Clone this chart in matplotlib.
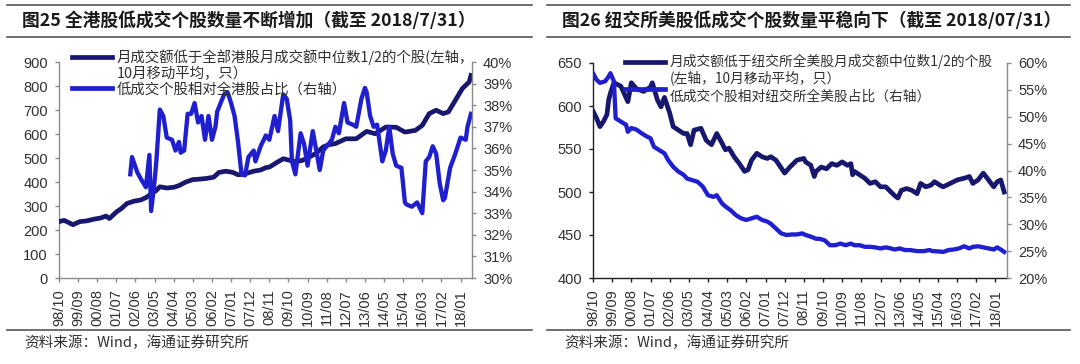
import matplotlib
matplotlib.use('Agg')
import matplotlib.pyplot as plt
from matplotlib.lines import Line2D
from matplotlib.ticker import FuncFormatter

plt.rcParams['font.family'] = ['Liberation Sans', 'Noto Sans CJK SC', 'DejaVu Sans']
CJK = ['Noto Sans CJK SC', 'DejaVu Sans']

# month index counted from 1998/10
tick_months = [0, 11, 22, 33, 44, 55, 66, 77, 88, 99, 110, 121, 132, 143, 154, 165, 176, 187, 198, 209, 220, 231]
tick_labels = ['98/10', '99/09', '00/08', '01/07', '02/06', '03/05', '04/04', '05/03', '06/02', '07/01', '07/12',
               '08/11', '09/10', '10/09', '11/08', '12/07', '13/06', '14/05', '15/04', '16/03', '17/02', '18/01']

# HK: number of low-turnover stocks (left axis)
hk_cnt_m = [0, 3, 5, 8, 12, 16, 20, 24, 27, 29, 33, 36, 39, 43, 47, 50, 54, 56, 58, 62, 66, 69, 73, 77, 81, 85, 89,
            92, 96, 100, 103, 106, 112, 116, 119, 121, 125, 129, 133, 136, 140, 144, 148, 152, 155, 159, 165, 171,
            177, 182, 188, 194, 199, 205, 209, 213, 217, 221, 224, 228, 232, 236, 237]
hk_cnt = [235, 240, 233, 222, 235, 238, 245, 250, 258, 248, 275, 290, 310, 320, 325, 335, 355, 365, 380, 375, 378,
          385, 400, 410, 412, 415, 420, 440, 445, 440, 430, 432, 445, 450, 460, 462, 480, 497, 490, 485, 490, 504,
          520, 546, 555, 560, 580, 580, 611, 601, 629, 628, 608, 615, 636, 685, 699, 685, 692, 740, 789, 817, 844]

# HK: share of low-turnover stocks, % (right axis)
hk_pct_m = [41, 42, 45, 47, 50, 52, 53, 55, 56, 58, 60, 62, 65, 67, 69, 70, 72, 74, 76, 78, 80, 82, 84, 86, 88, 90,
            91, 93, 95, 97, 99, 101, 103, 105, 107, 109, 112, 113, 116, 119, 121, 124, 126, 129, 131, 133, 134, 136,
            139, 141, 143, 146, 148, 150, 152, 155, 157, 159, 161, 164, 166, 169, 171, 174, 176, 177, 179, 181, 183,
            186, 188, 190, 192, 194, 197, 199, 200, 203, 206, 209, 211, 213, 215, 217, 219, 221, 222, 225, 228, 231,
            234, 235, 237]
hk_pct = [34.8, 35.6, 34.9, 34.6, 34.2, 35.7, 33.1, 34.5, 35.4, 37.8, 37.5, 36.5, 36.4, 35.9, 36.3, 35.8, 35.9,
          37.6, 37.6, 38.1, 37.2, 37.5, 36.4, 37.5, 36.4, 37.0, 37.7, 38.1, 38.5, 38.6, 38.1, 37.5, 36.3, 34.8,
          34.75, 35.6, 35.9, 35.4, 36.1, 36.6, 36.4, 37.5, 36.8, 38.5, 38.3, 37.3, 35.4, 34.8, 36.7, 36.2, 35.2,
          36.8, 35.9, 35.0, 35.9, 36.2, 36.4, 37.0, 36.7, 38.1, 37.2, 37.1, 37.0, 38.3, 38.8, 38.6, 37.5, 37.0,
          37.1, 35.4, 35.9, 37.0, 35.75, 35.2, 35.1, 33.5, 33.4, 33.3, 33.5, 33.0, 35.4, 35.6, 36.1, 35.75, 34.4,
          33.6, 33.7, 35.1, 35.75, 36.5, 36.4, 37.0, 37.6]

# NYSE: number of low-turnover stocks (left axis)
ny_cnt_m = [0, 2, 4, 6, 8, 9, 10, 12, 16, 20, 22, 25, 29, 33, 34, 37, 39, 41, 44, 46, 49, 52, 54, 56, 58, 62, 65,
            68, 71, 74, 76, 78, 81, 84, 87, 89, 91, 94, 97, 100, 102, 105, 107, 110, 113, 117, 121, 122, 125, 127,
            128, 131, 134, 137, 140, 143, 146, 148, 149, 150, 153, 156, 159, 162, 165, 168, 171, 173, 175, 177, 180,
            183, 186, 188, 191, 194, 196, 199, 201, 205, 209, 213, 216, 218, 221, 224, 227, 230, 232, 234, 236]
ny_cnt = [594, 586, 576, 582, 590, 607, 615, 627, 623, 605, 627, 620, 617, 622, 627, 607, 599, 610, 592, 576, 572,
          568, 568, 555, 572, 574, 560, 555, 568, 557, 549, 551, 541, 533, 524, 526, 537, 545, 541, 539, 541, 537,
          531, 522, 529, 537, 539, 535, 531, 518, 524, 529, 527, 533, 531, 535, 531, 533, 520, 524, 520, 516, 510,
          512, 506, 506, 500, 496, 493, 502, 504, 502, 498, 510, 506, 508, 512, 508, 506, 510, 514, 516, 518, 510,
          514, 522, 514, 506, 512, 514, 500]

# NYSE: share of low-turnover stocks, % (right axis)
ny_pct_m = [0, 2, 4, 7, 9, 10, 12, 13, 16, 19, 20, 22, 25, 28, 31, 33, 35, 38, 41, 43, 46, 49, 52, 54, 57, 60, 63,
            66, 69, 71, 74, 76, 79, 82, 85, 88, 91, 94, 97, 100, 102, 105, 108, 111, 114, 117, 120, 122, 125, 128,
            130, 133, 136, 139, 142, 145, 148, 150, 153, 156, 159, 162, 165, 168, 171, 173, 176, 179, 182, 186, 190,
            193, 195, 198, 201, 204, 207, 210, 213, 216, 218, 221, 224, 227, 230, 232, 234, 236]
ny_pct = [58.1, 56.9, 56.3, 56.6, 57.5, 58.1, 56.6, 49.7, 49.1, 48.5, 47.2, 47.9, 47.6, 46.9, 46.3, 46.0, 44.4,
          43.8, 43.2, 42.0, 40.7, 39.8, 39.2, 38.5, 38.2, 37.9, 37.0, 35.4, 35.1, 35.4, 33.9, 33.3, 32.6, 31.7,
          31.1, 30.8, 31.1, 31.4, 30.8, 30.5, 30.1, 29.2, 28.3, 28.0, 28.1, 28.1, 28.3, 28.0, 27.7, 27.3, 27.3,
          27.0, 26.1, 26.1, 26.4, 26.1, 26.4, 26.1, 26.1, 25.8, 25.8, 25.7, 25.5, 25.7, 25.5, 25.3, 25.5, 25.2,
          25.2, 25.0, 25.0, 25.2, 25.0, 24.95, 24.85, 25.2, 25.3, 25.5, 25.9, 25.5, 25.8, 25.9, 25.7, 25.5, 25.3,
          25.7, 25.3, 24.85]

NAVY = '#17176e'
BLUE = '#1f1fcf'
TXT = '#303030'

fig = plt.figure(figsize=(10.8, 3.64), dpi=100)
W, H = 1080.0, 364.0


def setup(ax, ax2, spine_col, ylim, yticks, y2lim, y2ticks):
    ax.set_xlim(0, 237.6)
    ax.set_ylim(*ylim)
    ax.set_yticks(yticks)
    ax2.set_ylim(*y2lim)
    ax2.set_yticks(y2ticks)
    ax2.yaxis.set_major_formatter(FuncFormatter(lambda v, p: '%d%%' % round(v)))
    ax.set_xticks(tick_months)
    ax.set_xticklabels(tick_labels, rotation=90)
    for a in (ax, ax2):
        a.spines['top'].set_visible(False)
        for s in ('left', 'right', 'bottom'):
            a.spines[s].set_color(spine_col)
            a.spines[s].set_linewidth(1.0)
        a.tick_params(axis='both', labelsize=10.5, labelcolor=TXT, color=spine_col, length=3, width=1.0, pad=5)
    ax.spines['right'].set_visible(False)
    ax2.spines['left'].set_visible(False)
    ax2.spines['bottom'].set_visible(False)


def legend(ax, hx, hy, tx, lines, fs):
    for y, c in zip(hy, (NAVY, BLUE)):
        ax.add_line(Line2D(hx, [y, y], color=c, lw=3.4, transform=ax.transAxes, clip_on=False))
    for y, s in lines:
        ax.text(tx, y, s, transform=ax.transAxes, fontsize=fs, color=TXT, va='center', ha='left', family=CJK)


# left panel: Hong Kong
ax1 = fig.add_axes([59 / W, 1 - 278 / H, 413 / W, 216 / H])
ax1b = ax1.twinx()
setup(ax1, ax1b, '#8a8a8a', (0, 900), range(0, 901, 100), (30, 40), range(30, 41))
ax1.plot(hk_cnt_m, hk_cnt, color=NAVY, lw=3.4, zorder=3)
ax1b.plot(hk_pct_m, hk_pct, color=BLUE, lw=3.1, zorder=2)
legend(ax1b, [0.031, 0.128], [1.023, 0.88], 0.140,
       [(1.023, '月成交额低于全部港股月成交额中位数1/2的个股(左轴，'),
        (0.944, '10月移动平均，只）'),
        (0.870, '低成交个股相对全港股占比（右轴）')], 10.4)

# right panel: NYSE
ax2 = fig.add_axes([593 / W, 1 - 278 / H, 414 / W, 215 / H])
ax2b = ax2.twinx()
setup(ax2, ax2b, '#202020', (400, 650), range(400, 651, 50), (20, 60), range(20, 61, 5))
ax2b.spines['right'].set_color('#8a8a8a')
ax2b.tick_params(axis='y', color='#8a8a8a')
ax2.plot(ny_cnt_m, ny_cnt, color=NAVY, lw=3.4, zorder=3)
ax2b.plot(ny_pct_m, ny_pct, color=BLUE, lw=3.1, zorder=2)
legend(ax2b, [0.077, 0.174], [1.005, 0.879], 0.186,
       [(1.005, '月成交额低于纽交所全美股月成交额中位数1/2的个股'),
        (0.930, '(左轴，10月移动平均，只）'),
        (0.842, '低成交个股相对纽交所全美股占比（右轴）')], 9.9)

# titles, rules, sources
for x0, x1, title, tx in [(7, 532, '图25 全港股低成交个股数量不断增加（截至 2018/7/31）', 22),
                          (547, 1070, '图26 纽交所美股低成交个股数量平稳向下（截至 2018/07/31）', 562)]:
    for y in (5, 37, 330):
        fig.add_artist(Line2D([x0 / W, x1 / W], [1 - y / H, 1 - y / H], color='#555555', lw=1.2,
                              transform=fig.transFigure))
    fig.text(tx / W, 1 - 21 / H, title, fontsize=12.8, fontweight='bold', color='#1a1a1a', va='center',
             family=CJK)
    fig.text((tx + 2) / W, 1 - 343 / H, '资料来源：Wind，海通证券研究所', fontsize=10.5, color=TXT, va='center',
             family=CJK)

fig.savefig('out.png', dpi=100, facecolor='white')
